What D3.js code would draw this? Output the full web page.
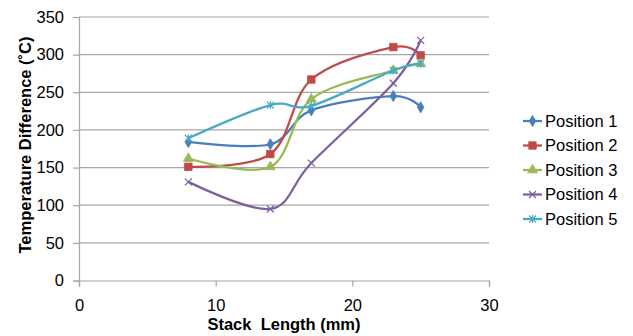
<!DOCTYPE html>
<html><head><meta charset="utf-8">
<script src="https://cdn.jsdelivr.net/npm/d3@7"></script>
<style>body{margin:0;background:#fff}svg{display:block;font-family:"Liberation Sans",Arial,sans-serif}</style>
</head><body><svg id="c" width="633" height="336"></svg>
<script>
const stackLength = [8, 14, 17, 23, 25];
const position1 = [184, 181, 226, 245, 230];
const position2 = [151, 168, 267, 310, 299];
const position3 = [162, 151, 241, 279, 288];
const position4 = [131, 95, 156, 262, 319];
const position5 = [189, 233, 232, 279, 288];
const seriesNames = ["Position 1", "Position 2", "Position 3", "Position 4", "Position 5"];
const xTicks = [0, 10, 20, 30];
const yTicks = [0, 50, 100, 150, 200, 250, 300, 350];
const colors = ["#4A7EBB", "#BE4B48", "#98B954", "#7D60A0", "#46AAC5"];
const markers = ["diamond", "square", "triangle", "x", "star"];

const series = [position1, position2, position3, position4, position5].map((v, i) => ({
  name: seriesNames[i], color: colors[i], marker: markers[i],
  pts: v.map((y, j) => ({x: stackLength[j], y}))
}));

const svg = d3.select("#c");
const L = 79, R = 489, T = 17, B = 280.5;
const x = d3.scaleLinear().domain([0, 30]).range([L, R]);
const y = d3.scaleLinear().domain([0, 350]).range([B, T]);

// gridlines
svg.append("g").selectAll("line").data(yTicks.filter(d => d > 0)).join("line")
  .attr("x1", L).attr("x2", R).attr("y1", d => y(d)).attr("y2", d => y(d))
  .attr("stroke", "#a6a6a6").attr("stroke-width", 1.2);

// axes
const yAxis = d3.axisLeft(y).tickValues(yTicks).tickSize(6).tickPadding(9);
const gy = svg.append("g").attr("transform", `translate(${L},0)`).call(yAxis);
const xAxis = d3.axisBottom(x).tickValues(xTicks).tickSize(6).tickPadding(13);
const gx = svg.append("g").attr("transform", `translate(0,${B})`).call(xAxis);
[gx, gy].forEach(g => {
  g.select(".domain").attr("stroke", "#a6a6a6").attr("stroke-width", 1.2);
  g.selectAll(".tick line").attr("stroke", "#a6a6a6").attr("stroke-width", 1.2);
  g.selectAll("text").attr("fill", "#000").style("font-size", "16.5px").style("font-family", '"Liberation Sans",Arial,sans-serif');
});

// lines
const line = d3.line().x(d => x(d.x)).y(d => y(d.y)).curve(d3.curveCardinal.tension(0));
const sym = {
  diamond: d3.symbol().type(d3.symbolDiamond).size(36),
  square: d3.symbol().type(d3.symbolSquare).size(56),
  triangle: d3.symbol().type(d3.symbolTriangle).size(42),
};
series.forEach(s => {
  const g = svg.append("g");
  g.append("path").attr("d", line(s.pts)).attr("fill", "none")
    .attr("stroke", s.color).attr("stroke-width", 2.25);
  s.pts.forEach(p => drawMarker(g, x(p.x), y(p.y), s.marker, s.color));
});

function drawMarker(g, px, py, m, c) {
  if (sym[m]) {
    g.append("path").attr("d", sym[m]()).attr("transform", `translate(${px},${py})`)
      .attr("fill", c).attr("stroke", c).attr("stroke-width", 0.8);
  } else if (m === "x") {
    const r = 3.5;
    g.append("path").attr("d", `M${px-r},${py-r}L${px+r},${py+r}M${px-r},${py+r}L${px+r},${py-r}`)
      .attr("stroke", c).attr("stroke-width", 1.2).attr("fill", "none");
  } else {
    const r = 3.5;
    g.append("path").attr("d", `M${px-r},${py-r}L${px+r},${py+r}M${px-r},${py+r}L${px+r},${py-r}M${px},${py-r-0.5}L${px},${py+r+0.5}`)
      .attr("stroke", c).attr("stroke-width", 1.2).attr("fill", "none");
  }
}

// legend
const lg = svg.append("g");
series.forEach((s, i) => {
  const yy = 121 + i * 24.5;
  lg.append("line").attr("x1", 523).attr("x2", 542).attr("y1", yy).attr("y2", yy)
    .attr("stroke", s.color).attr("stroke-width", 2.25);
  drawMarker(lg, 532.5, yy, s.marker, s.color);
  lg.append("text").attr("x", 545).attr("y", yy).attr("dy", "0.36em")
    .style("font-size", "16.5px").text(s.name);
});

// axis titles
svg.append("text").attr("x", 284).attr("y", 330).attr("text-anchor", "middle")
  .style("font-size", "16.5px").style("font-weight", "bold").style("white-space", "pre")
  .text("Stack  Length (mm)");
svg.append("text").attr("transform", "translate(31,145) rotate(-90)").attr("text-anchor", "middle")
  .style("font-size", "16.5px").style("font-weight", "bold")
  .text("Temperature Difference (˚C)");
</script></body></html>
